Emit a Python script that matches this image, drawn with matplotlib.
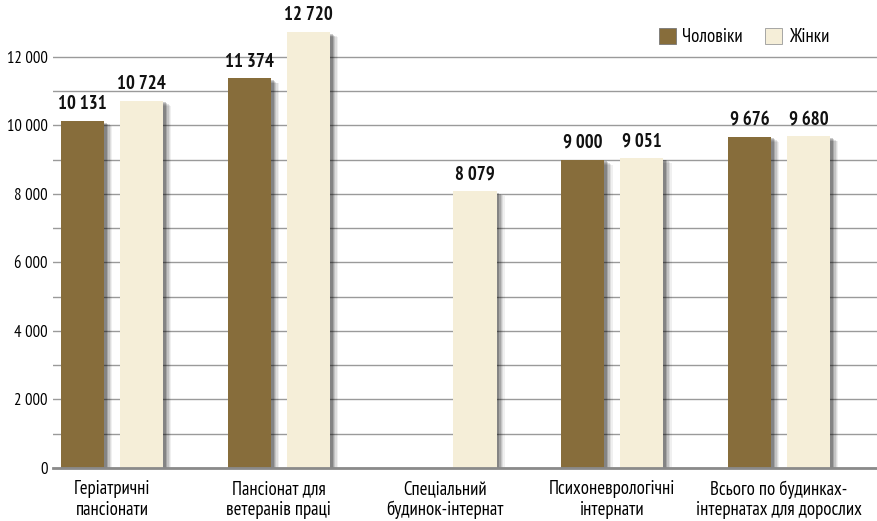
import numpy as np
import matplotlib.pyplot as plt
import matplotlib.patheffects as pe
from matplotlib.patches import Patch

# Average values by type of institution
categories = ["Геріатричні\nпансіонати", "Пансіонат для\nветеранів праці",
              "Спеціальний\nбудинок-інтернат", "Психоневрологічні\nінтернати",
              "Всього по будинках-\nінтернатах для дорослих"]
men = [10131, 11374, np.nan, 9000, 9676]
women = [10724, 12720, 8079, 9051, 9680]
series_names = ["Чоловіки", "Жінки"]

brown = "#876d3b"
cream = "#f5eed8"

plt.rcParams['font.family'] = ['PT Sans Narrow', 'DejaVu Sans']

fig = plt.figure(figsize=(8.77, 5.21), dpi=100)
ax = fig.add_axes([53 / 877, 53 / 521, 824 / 877, 468 / 521])

x = np.arange(len(categories))
w = 0.258
off = 0.177

# soft shadow made of a few stacked offsets
shadow = []
for d, a in [(6, 0.06), (5, 0.08), (4, 0.11), (3, 0.15), (2, 0.2)]:
    shadow.append(pe.SimplePatchShadow(offset=(d, -d * 0.6), shadow_rgbFace="black", alpha=a))
shadow.append(pe.Normal())

b1 = ax.bar(x - off, men, w, color=brown, zorder=3)
b2 = ax.bar(x + off, women, w, color=cream, zorder=3)
for b in list(b1) + list(b2):
    b.set_path_effects(shadow)


def fmt(v):
    return "{:,}".format(int(v)).replace(",", " ")


for xs, vals in [(x - off, men), (x + off, women)]:
    for xi, v in zip(xs, vals):
        if np.isnan(v):
            continue
        ax.text(xi, v + 230, fmt(v), ha="center", va="bottom",
                fontsize=13.5, fontweight="bold", color="#111111")

ax.set_xlim(-0.354, 4.588)
ax.set_ylim(0, 13664)
ax.set_yticks(np.arange(0, 12001, 2000))
ax.set_yticks(np.arange(1000, 12000, 2000), minor=True)
ax.set_yticklabels([fmt(v) for v in np.arange(0, 12001, 2000)], fontsize=12)
ax.grid(axis="y", which="both", color="#9a9a9a", linewidth=1, zorder=0)
ax.tick_params(axis="y", which="both", length=0, pad=4)
ax.tick_params(axis="x", length=0, pad=9)
ax.set_xticks(x)
ax.set_xticklabels(categories, fontsize=13.5, linespacing=1.15)
for s in ["left", "right", "top"]:
    ax.spines[s].set_visible(False)
ax.spines["bottom"].set_color("#8a8a8a")
ax.spines["bottom"].set_linewidth(2)
ax.spines["bottom"].set_zorder(4)

handles = [Patch(facecolor=brown, edgecolor="#777777", linewidth=0.6),
           Patch(facecolor=cream, edgecolor="#999999", linewidth=0.6)]
ax.legend(handles, series_names, loc="upper right", bbox_to_anchor=(0.942, 0.94),
          ncol=2, frameon=False, fontsize=13.5, handlelength=0.9, handleheight=0.9,
          handletextpad=0.35, columnspacing=1.2, borderaxespad=0, borderpad=0)

fig.savefig("out.png", dpi=100)
